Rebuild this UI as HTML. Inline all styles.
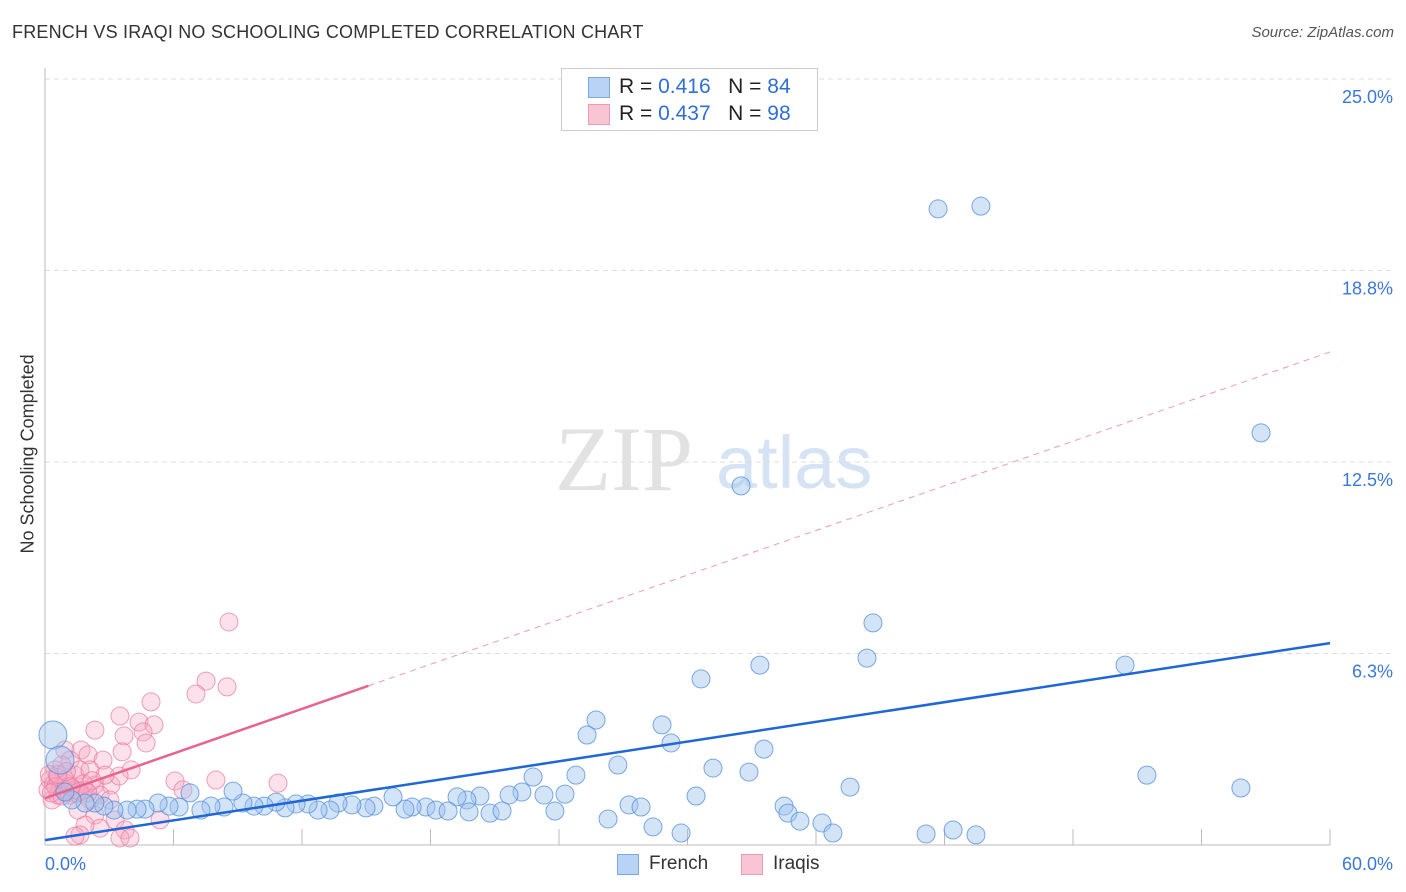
<!DOCTYPE html>
<html><head><meta charset="utf-8"><style>
body{margin:0;background:#fff;font-family:"Liberation Sans",sans-serif;}
#wrap{position:relative;width:1406px;height:892px;overflow:hidden;}
.t{position:absolute;white-space:nowrap;}
</style></head><body>
<div id="wrap">
<div class="t" style="left:12px;top:22px;font-size:18px;color:#333;letter-spacing:0.2px">FRENCH VS IRAQI NO SCHOOLING COMPLETED CORRELATION CHART</div>
<div class="t" style="right:12px;top:24px;font-size:15px;color:#555;font-style:italic">Source: ZipAtlas.com</div>
<div class="t" style="left:-57px;top:458px;font-size:18px;color:#333;transform:rotate(-90deg);transform-origin:center;width:170px;text-align:center">No Schooling Completed</div>
<svg id="svg" width="1406" height="892" style="position:absolute;left:0;top:0"></svg>
<div style="position:absolute;left:561px;top:68px;width:255px;height:61px;border:1px solid #ccc;background:#fff">
 <div style="position:absolute;left:26px;top:8px;width:20px;height:19px;background:#b8d3f5;border:1px solid #7aa7e0"></div>
 <div class="t" style="left:57px;top:6px;font-size:21px;color:#222">R = <span style="color:#2f6fd6">0.416</span>&nbsp;&nbsp;&nbsp;N = <span style="color:#2f6fd6">84</span></div>
 <div style="position:absolute;left:26px;top:35px;width:20px;height:19px;background:#f9c4d4;border:1px solid #ec9ab5"></div>
 <div class="t" style="left:57px;top:33px;font-size:21px;color:#222">R = <span style="color:#2f6fd6">0.437</span>&nbsp;&nbsp;&nbsp;N = <span style="color:#2f6fd6">98</span></div>
</div>
<div>
 <div style="position:absolute;left:617px;top:854px;width:20px;height:19px;background:#b8d3f5;border:1px solid #7aa7e0"></div>
 <div class="t" style="left:649px;top:853px;font-size:19px;color:#333">French</div>
 <div style="position:absolute;left:741px;top:854px;width:20px;height:19px;background:#f9c4d4;border:1px solid #ec9ab5"></div>
 <div class="t" style="left:773px;top:853px;font-size:19px;color:#333">Iraqis</div>
</div>
</div>
<script>
const xTicks=[0,6,12,18,24,30,36,42,48,54,60];
const yTicks=[6.25,12.5,18.75,25];
const yTickLabels=["6.3%","12.5%","18.8%","25.0%"];
const xEndLabels=["0.0%","60.0%"];
const frenchX=[0.37,0.70,41.70,43.70,56.78,32.50,38.66,38.38,33.38,50.43,30.63,25.73,25.31,28.81,29.23,33.57,31.19,32.87,26.75,22.79,24.79,51.45,55.84,37.59,30.40,27.27,27.83,34.51,34.69,35.25,36.28,36.79,26.29,28.39,29.70,41.14,42.40,43.47,23.81,24.28,23.30,22.27,21.67,20.31,19.70,19.24,19.80,20.78,21.34,17.79,18.26,18.82,17.14,16.81,16.25,15.36,14.99,14.33,13.68,13.31,12.75,12.28,11.72,11.21,10.79,10.23,9.76,9.24,8.78,8.36,7.75,7.28,6.77,6.26,5.79,5.28,4.67,4.30,3.83,3.22,2.75,2.33,1.87,1.26,0.93];
const frenchY=[3.59,2.77,20.76,20.85,13.45,11.72,7.25,6.10,5.87,5.87,5.42,4.08,3.59,3.92,3.33,3.13,2.51,2.38,2.61,2.22,2.28,2.28,1.86,1.89,1.60,1.31,1.24,1.27,1.04,0.78,0.72,0.39,0.85,0.59,0.39,0.36,0.49,0.33,1.11,1.66,1.63,1.73,1.63,1.60,1.47,1.57,1.08,1.04,1.11,1.24,1.14,1.11,1.24,1.17,1.57,1.27,1.21,1.31,1.37,1.14,1.14,1.34,1.34,1.21,1.40,1.27,1.27,1.37,1.76,1.24,1.27,1.14,1.70,1.24,1.27,1.37,1.17,1.17,1.14,1.14,1.27,1.37,1.37,1.47,1.73];
const iraqiX=[8.59,7.52,7.05,8.50,4.95,3.50,4.39,5.09,2.33,4.58,4.72,3.69,3.60,1.68,2.01,2.71,4.02,10.88,7.98,6.07,6.44,3.08,3.46,0.93,1.17,1.40,0.47,0.23,0.70,1.87,2.10,1.54,2.33,2.57,1.87,3.27,3.74,3.50,1.63,1.40,3.97,5.37,0.14,0.33,0.61,0.93,1.17,1.63,2.33,2.57,2.80,0.79,2.10,3.03,0.4,0.9,1.3,1.8,0.2,0.6,1.1,1.5,2.2,0.5,1.0,1.4,0.3,0.8,1.2,1.6,2.0,0.6,1.0];
const iraqiY=[7.28,5.35,4.93,5.16,4.67,4.21,4.01,3.92,3.75,3.69,3.33,3.56,3.04,3.10,2.94,2.77,2.45,2.02,2.12,2.09,1.80,1.96,2.25,3.10,2.77,2.28,2.45,2.12,1.96,1.80,1.47,1.14,0.98,0.55,0.65,0.82,0.49,0.23,0.33,0.29,0.23,0.82,1.80,1.47,1.63,2.12,1.63,2.45,1.96,1.63,2.28,2.61,2.45,1.47,2.0,1.8,1.7,2.0,2.3,2.2,1.9,1.7,2.1,1.9,2.0,1.8,1.7,1.6,1.9,1.75,1.7,2.3,2.4];
const frenchTrend=[0.16,6.59];
const iraqiTrend=[1.53,16.09];
const iraqiSolidEnd=15.1;

const X0=45,X1=1330,Y0=845,Y1=79;
const sx=v=>X0+(v/60)*(X1-X0);
const sy=v=>Y0-(v/25)*(Y0-Y1);
const NS="http://www.w3.org/2000/svg";
const svg=document.getElementById('svg');
function mk(tag,attrs){const e=document.createElementNS(NS,tag);for(const k in attrs)e.setAttribute(k,attrs[k]);svg.appendChild(e);return e;}
let w=mk('text',{x:555,y:490,'font-size':92,'font-family':'Liberation Serif, serif',fill:'#e2e2e2'});w.textContent='ZIP';


let w2=mk('text',{x:716,y:488,'font-size':74,'font-family':'Liberation Sans, sans-serif',fill:'#d5e3f5'});w2.textContent='atlas';


yTicks.forEach((t,i)=>{
 const g=mk('line',{x1:X0,x2:1395,y1:sy(t),y2:sy(t),stroke:'#ddd','stroke-dasharray':'5,4'});
 
 
 const tx=mk('text',{x:1393,y:sy(t)+24,'text-anchor':'end','font-size':18,fill:'#3a78d8','font-family':'Liberation Sans, sans-serif'});tx.textContent=yTickLabels[i];
 
 
});
let ax=mk('line',{x1:X0,x2:X0,y1:68,y2:Y0,stroke:'#bbb'});


let bx=mk('line',{x1:X0,x2:X1,y1:Y0,y2:Y0,stroke:'#bbb'});


xTicks.forEach(t=>{
 const l=mk('line',{x1:sx(t),x2:sx(t),y1:Y0,y2:Y0-16,stroke:'#bbb'});
 
 
});
let xl0=mk('text',{x:45,y:870,'font-size':18,fill:'#3a78d8','font-family':'Liberation Sans, sans-serif'});xl0.textContent=xEndLabels[0];


let xl1=mk('text',{x:1393,y:870,'text-anchor':'end','font-size':18,fill:'#3a78d8','font-family':'Liberation Sans, sans-serif'});xl1.textContent=xEndLabels[1];


iraqiX.forEach((x,i)=>{
 const c=mk('circle',{cx:sx(x),cy:sy(iraqiY[i]),r:9,fill:'rgba(246,170,196,0.35)',stroke:'rgba(232,120,158,0.7)','stroke-width':1});
 
 
});
frenchX.forEach((x,i)=>{
 const big=i<2;
 const c=mk('circle',{cx:sx(x),cy:sy(frenchY[i]),r:big?14:9,fill:'rgba(160,196,238,0.45)',stroke:'rgba(80,140,220,0.75)','stroke-width':1});
 
 
});
let ft=mk('line',{x1:sx(0),y1:sy(frenchTrend[0]),x2:sx(60),y2:sy(frenchTrend[1]),stroke:'#1f66d6','stroke-width':2.5});


const iy=x=>iraqiTrend[0]+(iraqiTrend[1]-iraqiTrend[0])*x/60;
let it=mk('line',{x1:sx(0),y1:sy(iy(0)),x2:sx(iraqiSolidEnd),y2:sy(iy(iraqiSolidEnd)),stroke:'#e8638f','stroke-width':2.5});


let id=mk('line',{x1:sx(iraqiSolidEnd),y1:sy(iy(iraqiSolidEnd)),x2:sx(60),y2:sy(iy(60)),stroke:'#ec9ab5','stroke-width':1,'stroke-dasharray':'6,5'});


</script>
</body></html>
